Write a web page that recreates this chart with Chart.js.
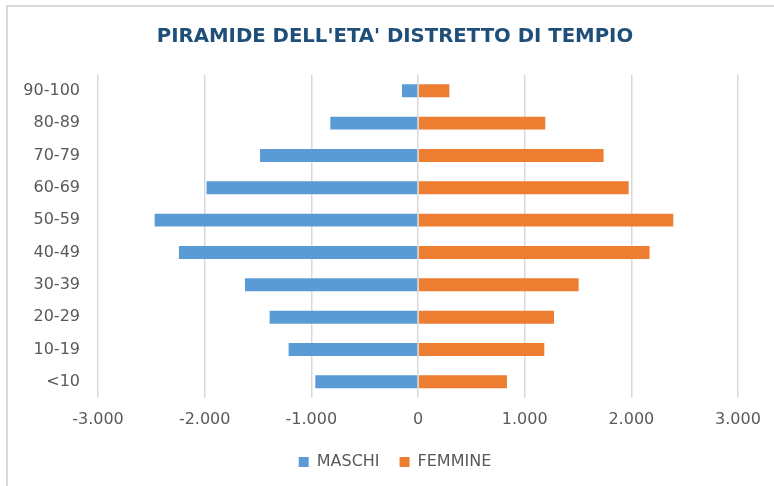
<!DOCTYPE html>
<html>
<head>
<meta charset="utf-8">
<script src="https://cdn.jsdelivr.net/npm/chart.js@4"></script>
<style>
  html, body { margin: 0; padding: 0; background: #ffffff; overflow: hidden; }
  #wrap { position: relative; width: 774px; height: 486px; }
  #frame { position: absolute; left: 6px; top: 5px; width: 800px; height: 520px;
           border-top: 2px solid #d9d9d9; border-left: 2px solid #d9d9d9; pointer-events: none; }
  canvas { position: absolute; left: 0; top: 0; }
</style>
</head>
<body>
<div id="wrap">
  <canvas id="c" width="774" height="486"></canvas>
  <div id="frame"></div>
</div>
<script>
// Age classes, top to bottom as in the chart
const categories = ['90-100', '80-89', '70-79', '60-69', '50-59', '40-49', '30-39', '20-29', '10-19', '<10'];
// Males (drawn to the left, negative values)
const maschi = [-150, -822, -1481, -1982, -2469, -2241, -1622, -1391, -1213, -963];
// Females (drawn to the right)
const femmine = [294, 1193, 1740, 1975, 2393, 2171, 1506, 1275, 1184, 834];
const seriesNames = ['MASCHI', 'FEMMINE'];
const xTicks = [-3000, -2000, -1000, 0, 1000, 2000, 3000];
const titleText = "PIRAMIDE DELL'ETA' DISTRETTO DI TEMPIO";

function fmt(v) {
  const neg = v < 0;
  const s = String(Math.abs(Math.round(v))).replace(/\B(?=(\d{3})+(?!\d))/g, '.');
  return (neg ? '-' : '') + s;
}

const FONT = 'DejaVu Sans';
const GRAY = '#595959';

new Chart(document.getElementById('c'), {
  type: 'bar',
  data: {
    labels: categories,
    datasets: [
      { label: seriesNames[0], data: maschi, backgroundColor: '#5B9BD5', categoryPercentage: 0.8, barPercentage: 0.5 },
      { label: seriesNames[1], data: femmine, backgroundColor: '#ED7D31', categoryPercentage: 0.8, barPercentage: 0.5 }
    ]
  },
  options: {
    indexAxis: 'y',
    responsive: false,
    animation: false,
    devicePixelRatio: 1,
    layout: { padding: { left: 52, right: 36, top: 0, bottom: 6 } },
    scales: {
      x: {
        stacked: true,
        min: -3000, max: 3000,
        afterBuildTicks: (s) => { s.ticks = xTicks.map(v => ({ value: v })); },
        afterFit: (s) => { s.height = 36; },
        ticks: { color: GRAY, font: { family: FONT, size: 16 }, padding: 12, callback: (v) => fmt(v), maxRotation: 0 },
        grid: { color: '#d9d9d9', lineWidth: 1.5, drawTicks: false },
        border: { display: false }
      },
      y: {
        stacked: true,
        afterFit: (s) => {
          s.width = 46;
          // let the category labels extend into the left padding
          s._computeLabelArea = () => ({ top: 0, left: 0, bottom: s.chart.height, right: s.right });
        },
        ticks: { color: GRAY, font: { family: FONT, size: 16 }, padding: 18 },
        grid: { display: false, drawTicks: false },
        border: { display: false }
      }
    },
    plugins: {
      title: {
        display: true,
        text: titleText,
        color: '#1F4E79',
        font: { family: FONT, size: 19.7, weight: 'bold' },
        padding: { top: 25, bottom: 26 }
      },
      legend: {
        position: 'bottom',
        labels: { color: GRAY, font: { family: FONT, size: 16 }, boxWidth: 10, boxHeight: 10, padding: 20 }
      },
      tooltip: { enabled: false }
    }
  }
});
</script>
</body>
</html>
